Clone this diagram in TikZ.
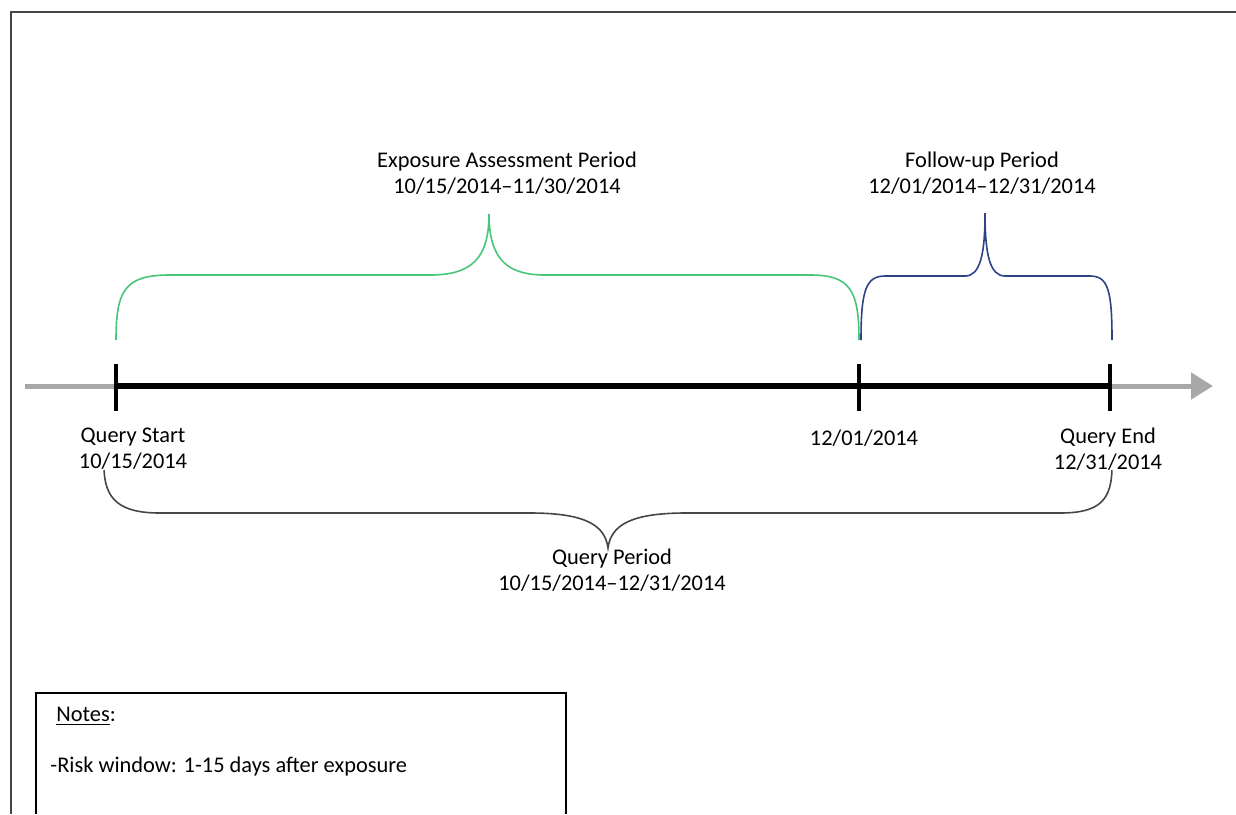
\documentclass[tikz,border=0pt]{standalone}
\usepackage{fontspec}
\setmainfont{Carlito}
\usepackage{tikz}
\usetikzlibrary{calc, arrows.meta, positioning}
\definecolor{expgreen}{RGB}{72,198,120}
\definecolor{fupblue}{RGB}{46,66,136}
\definecolor{qgray}{RGB}{70,70,70}
\definecolor{axisgray}{RGB}{168,168,168}

\begin{document}
\begin{tikzpicture}[x=0.5pt, y=-0.5pt, font=\fontsize{11.2}{13}\selectfont,
    lbl/.style={align=center, inner sep=0pt},
    tickmark/.style={line width=2pt, black},
    brace/.style={line width=0.8pt}]
    \useasboundingbox (0,0) rectangle (1236,814);
    % frame and notes box (cut off at the page edge)
    \draw[qgray, line width=1pt] (11,814) -- (11,12) -- (1236,12);
    \draw[black, line width=1pt] (36,814) -- (36,693) -- (566,693) -- (566,814);
    % time axis
    \coordinate (axL) at (25,386);
    \coordinate (axR) at (1213,386);
    \coordinate (qs) at (116,386);
    \coordinate (fu) at (859,386);
    \coordinate (qe) at (1110,386);
    \draw[axisgray, line width=2.5pt, -{Triangle[length=11pt, width=13pt]}] (axL) -- (axR);
    \draw[black, line width=3pt] (qs) -- (qe);
    \foreach \t in {qs, fu, qe}
      \draw[tickmark] ($(\t)+(0,-22)$) -- ($(\t)+(0,25)$);
    % braces
    \coordinate (gL) at (116,340);
    \coordinate (gT) at (489,214);
    \coordinate (gR) at (859,340);
    \draw[brace, expgreen] (gL) .. controls (116,290) and (125,275) .. (170,275) -- (430,275)
      .. controls (470,275) and (489,260) .. (gT)
      .. controls (489,260) and (508,275) .. (545,275) -- (810,275)
      .. controls (850,275) and (859,290) .. (gR);
    \coordinate (bL) at (861,340);
    \coordinate (bT) at (985,213);
    \coordinate (bR) at (1112,340);
    \draw[brace, fupblue] (bL) .. controls (861,290) and (866,276) .. (885,276) -- (965,276)
      .. controls (980,276) and (985,255) .. (bT)
      .. controls (985,255) and (990,276) .. (1005,276) -- (1090,276)
      .. controls (1108,276) and (1112,290) .. (bR);
    \coordinate (qL) at (104,466);
    \coordinate (qT) at (608,548);
    \coordinate (qR) at (1112,466);
    \draw[brace, qgray] (qL) .. controls (104,500) and (120,513) .. (160,513) -- (530,513)
      .. controls (585,513) and (605,525) .. (qT)
      .. controls (611,525) and (631,513) .. (686,513) -- (1060,513)
      .. controls (1100,513) and (1112,500) .. (qR);
    % labels
    \node[lbl, fill=white] (lqs) at (133,449) {Query Start\\10/15/2014};
    \node[lbl] (lfu) at (864,438) {12/01/2014};
    \node[lbl, fill=white] (lqe) at (1108,449) {Query End\\12/31/2014};
    \node[lbl] (lexp) at (507,173) {Exposure Assessment Period\\10/15/2014--11/30/2014};
    \node[lbl] (lfol) at (982,173) {Follow-up Period\\12/01/2014--12/31/2014};
    \node[lbl] (lqp) at (612,570) {Query Period\\10/15/2014--12/31/2014};
    \node[lbl, anchor=west] (nhead) at (56,716) {\underline{Notes}:};
    \node[lbl, anchor=west] (nrisk) at (50,767) {-Risk window: 1-15 days after exposure};
  \end{tikzpicture}
\end{document}
